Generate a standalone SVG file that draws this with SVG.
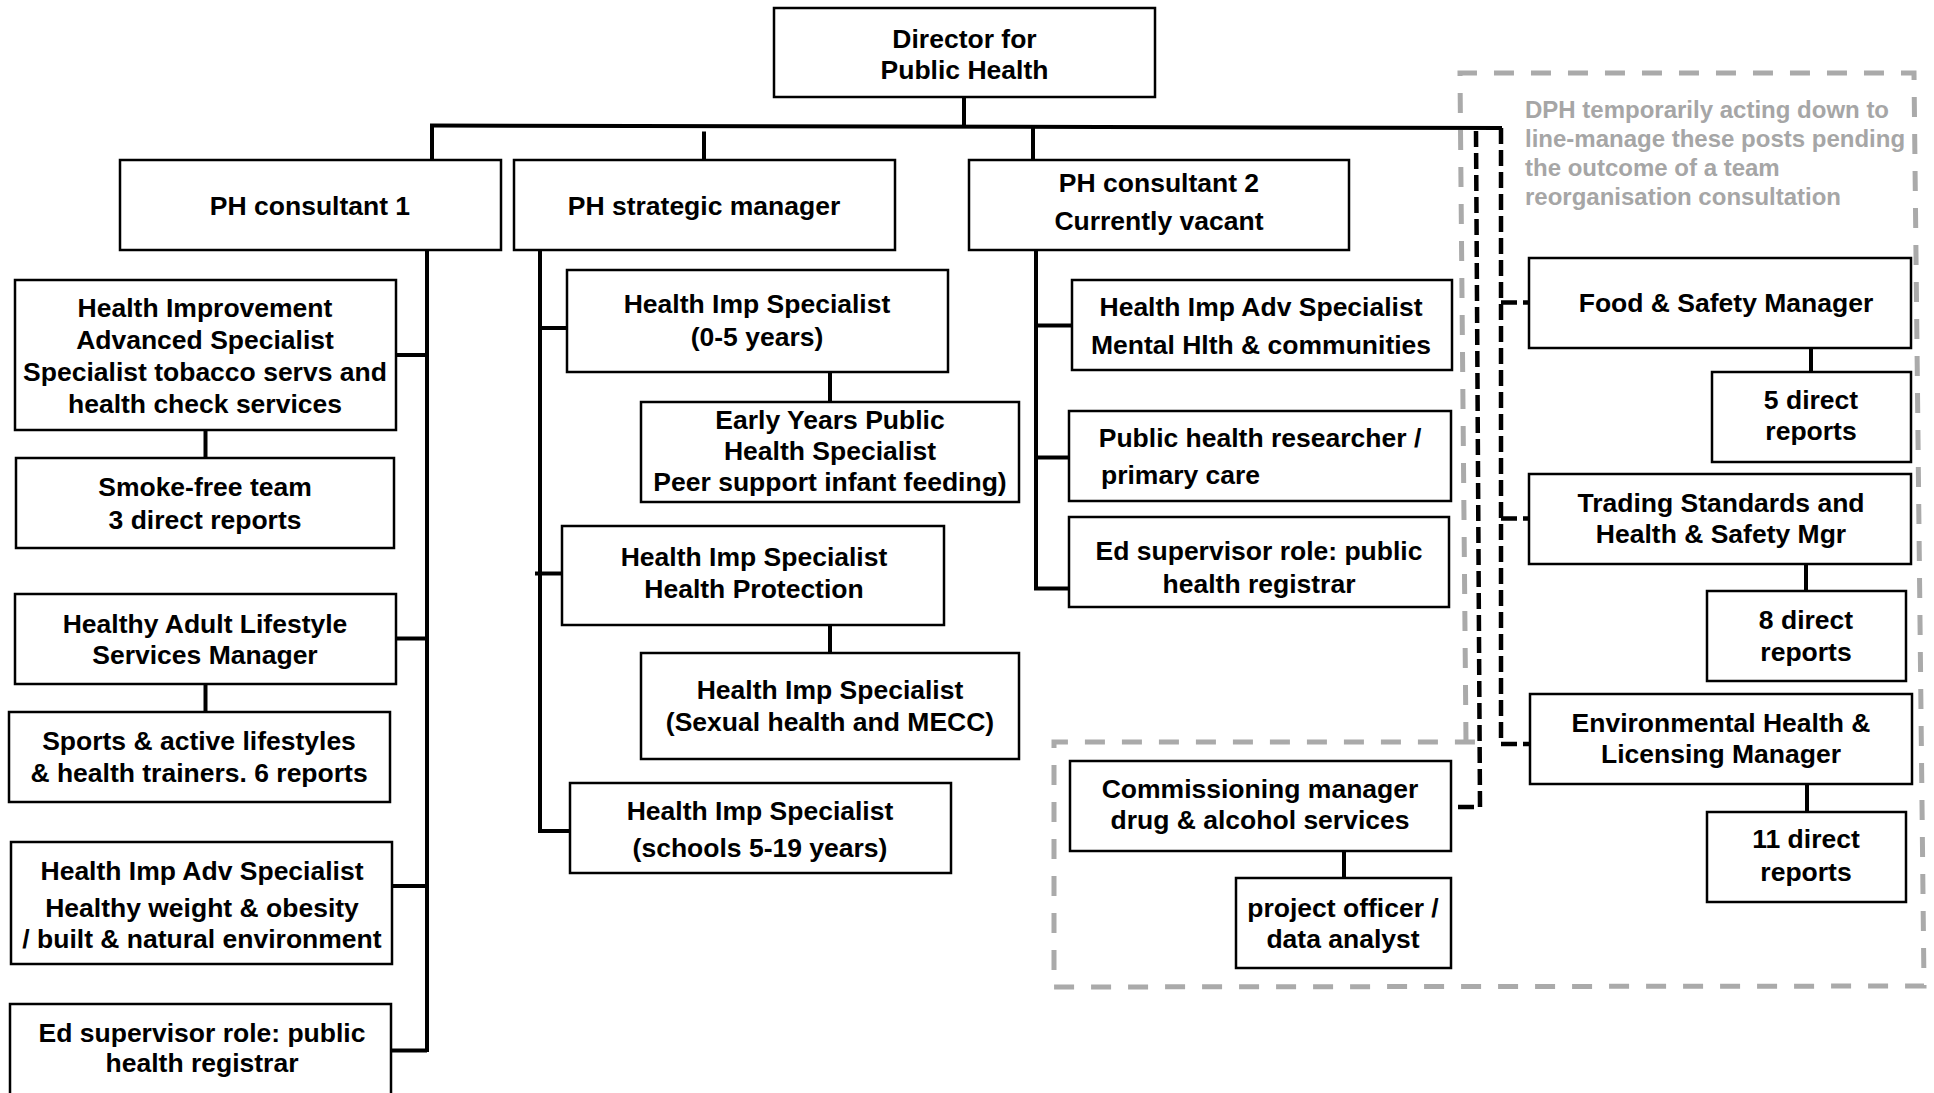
<svg xmlns="http://www.w3.org/2000/svg" width="1934" height="1093" viewBox="0 0 1934 1093">
<style>
  .box { fill: #ffffff; stroke: #000000; stroke-width: 2.5; }
  .t { font-family: "Liberation Sans", Arial, Helvetica, sans-serif; font-weight: bold; font-size: 26.5px; fill: #000000; text-anchor: middle; }
  .note { font-family: "Liberation Sans", Arial, Helvetica, sans-serif; font-weight: bold; font-size: 24px; fill: #a6a6a6; }
  .ln { fill: none; stroke: #000000; stroke-width: 4; stroke-linejoin: miter; }
  .dl { fill: none; stroke: #000000; stroke-width: 4.5; stroke-dasharray: 16 6; }
  .gz { fill: none; stroke: #aaaaaa; stroke-width: 5; stroke-dasharray: 20 17; }
</style>
<rect width="1934" height="1093" fill="#ffffff"/>

<g id="region">
  <path class="gz" d="M1466 742 L1460 73 L1914 73 L1924 986 L1054 987 L1054 742 L1476 742"/>
  <text class="note" x="1525" y="118">DPH temporarily acting down to</text>
  <text class="note" x="1525" y="147">line-manage these posts pending</text>
  <text class="note" x="1525" y="176">the outcome of a team</text>
  <text class="note" x="1525" y="205">reorganisation consultation</text>
</g>

<g id="connectors">
  <path class="ln" d="M964 97 V127"/>
  <path class="ln" d="M430 125.5 L1502 128"/>
  <path class="ln" d="M432 125 V160"/>
  <path class="ln" d="M704 131.5 V160"/>
  <path class="ln" d="M1033 127 V160"/>
  <path class="ln" d="M427 250 V1052"/>
  <path class="ln" d="M396 355 H427"/>
  <path class="ln" d="M394 638.5 H427"/>
  <path class="ln" d="M392 886 H427"/>
  <path class="ln" d="M391 1050.5 H427"/>
  <path class="ln" d="M205.5 430 V458"/>
  <path class="ln" d="M205.5 684 V712"/>
  <path class="ln" d="M540 250 V831 H570"/>
  <path class="ln" d="M540 328 H567"/>
  <path class="ln" d="M535 573.5 H562"/>
  <path class="ln" d="M830 372 V402"/>
  <path class="ln" d="M830 625 V653"/>
  <path class="ln" d="M1036 250 V588.5 H1069"/>
  <path class="ln" d="M1036 325.5 H1072"/>
  <path class="ln" d="M1036 457.5 H1069"/>
  <path class="ln" d="M1811 348 V372"/>
  <path class="ln" d="M1806 564 V591"/>
  <path class="ln" d="M1807 784 V812"/>
  <path class="ln" d="M1344 851 V878"/>
  <path class="dl" d="M1501 128 V744 H1530"/>
  <path class="dl" d="M1501 302.5 H1529"/>
  <path class="dl" d="M1501 518.5 H1529"/>
  <path class="dl" d="M1476 131 L1480 807 H1451"/>
</g>

<g id="director">
  <rect class="box" x="774" y="8" width="381" height="89"/>
  <text class="t" x="964.5" y="48">Director for</text>
  <text class="t" x="964.5" y="79">Public Health</text>
</g>
<g id="ph-consultant-1">
  <rect class="box" x="120" y="160" width="381" height="90"/>
  <text class="t" x="310" y="214.5">PH consultant 1</text>
</g>
<g id="ph-strategic-manager">
  <rect class="box" x="514" y="160" width="381" height="90"/>
  <text class="t" x="704" y="214.5">PH strategic manager</text>
</g>
<g id="ph-consultant-2">
  <rect class="box" x="969" y="160" width="380" height="90"/>
  <text class="t" x="1159" y="192">PH consultant 2</text>
  <text class="t" x="1159" y="229.5">Currently vacant</text>
</g>

<g id="hi-advanced-specialist">
  <rect class="box" x="15" y="280" width="381" height="150"/>
  <text class="t" x="205" y="317">Health Improvement</text>
  <text class="t" x="205" y="349">Advanced Specialist</text>
  <text class="t" x="205" y="381">Specialist tobacco servs and</text>
  <text class="t" x="205" y="413">health check services</text>
</g>
<g id="smoke-free-team">
  <rect class="box" x="16" y="458" width="378" height="90"/>
  <text class="t" x="205" y="496">Smoke-free team</text>
  <text class="t" x="205" y="529">3 direct reports</text>
</g>
<g id="healthy-adult-lifestyle">
  <rect class="box" x="15" y="594" width="381" height="90"/>
  <text class="t" x="205" y="632.5">Healthy Adult Lifestyle</text>
  <text class="t" x="205" y="664">Services Manager</text>
</g>
<g id="sports-active">
  <rect class="box" x="9" y="712" width="381" height="90"/>
  <text class="t" x="199" y="750">Sports &amp; active lifestyles</text>
  <text class="t" x="199" y="781.5">&amp; health trainers. 6 reports</text>
</g>
<g id="healthy-weight">
  <rect class="box" x="11" y="842" width="381" height="122"/>
  <text class="t" x="202" y="879.5">Health Imp Adv Specialist</text>
  <text class="t" x="202" y="917">Healthy weight &amp; obesity</text>
  <text class="t" x="202" y="948">/ built &amp; natural environment</text>
</g>
<g id="ed-supervisor-1">
  <rect class="box" x="10" y="1004" width="381" height="100"/>
  <text class="t" x="202" y="1041.5">Ed supervisor role: public</text>
  <text class="t" x="202" y="1072">health registrar</text>
</g>

<g id="his-0-5">
  <rect class="box" x="567" y="270" width="381" height="102"/>
  <text class="t" x="757" y="313">Health Imp Specialist</text>
  <text class="t" x="757" y="345.5">(0-5 years)</text>
</g>
<g id="early-years">
  <rect class="box" x="641" y="402" width="378" height="100"/>
  <text class="t" x="830" y="428.5">Early Years Public</text>
  <text class="t" x="830" y="459.5">Health Specialist</text>
  <text class="t" x="830" y="491">Peer support infant feeding)</text>
</g>
<g id="his-health-protection">
  <rect class="box" x="562" y="526" width="382" height="99"/>
  <text class="t" x="754" y="566">Health Imp Specialist</text>
  <text class="t" x="754" y="597.5">Health Protection</text>
</g>
<g id="his-sexual-health">
  <rect class="box" x="641" y="653" width="378" height="106"/>
  <text class="t" x="830" y="699">Health Imp Specialist</text>
  <text class="t" x="830" y="731">(Sexual health and MECC)</text>
</g>
<g id="his-schools">
  <rect class="box" x="570" y="783" width="381" height="90"/>
  <text class="t" x="760" y="820">Health Imp Specialist</text>
  <text class="t" x="760" y="857">(schools 5-19 years)</text>
</g>

<g id="mental-health">
  <rect class="box" x="1072" y="280" width="380" height="90"/>
  <text class="t" x="1261" y="316">Health Imp Adv Specialist</text>
  <text class="t" x="1261" y="353.5">Mental Hlth &amp; communities</text>
</g>
<g id="ph-researcher">
  <rect class="box" x="1069" y="411" width="382" height="90"/>
  <text class="t" x="1260" y="447">Public health researcher /</text>
  <text class="t" x="1101" y="484" style="text-anchor:start">primary care</text>
</g>
<g id="ed-supervisor-2">
  <rect class="box" x="1069" y="517" width="380" height="90"/>
  <text class="t" x="1259" y="560">Ed supervisor role: public</text>
  <text class="t" x="1259" y="593">health registrar</text>
</g>
<g id="commissioning-manager">
  <rect class="box" x="1070" y="761" width="381" height="90"/>
  <text class="t" x="1260" y="797.5">Commissioning manager</text>
  <text class="t" x="1260" y="829">drug &amp; alcohol services</text>
</g>
<g id="project-officer">
  <rect class="box" x="1236" y="878" width="215" height="90"/>
  <text class="t" x="1343" y="916.5">project officer /</text>
  <text class="t" x="1343" y="948">data analyst</text>
</g>

<g id="food-safety">
  <rect class="box" x="1529" y="258" width="382" height="90"/>
  <text class="t" x="1726" y="312">Food &amp; Safety Manager</text>
</g>
<g id="reports-5">
  <rect class="box" x="1712" y="372" width="199" height="90"/>
  <text class="t" x="1811" y="408.5">5 direct</text>
  <text class="t" x="1811" y="440">reports</text>
</g>
<g id="trading-standards">
  <rect class="box" x="1529" y="474" width="382" height="90"/>
  <text class="t" x="1721" y="512">Trading Standards and</text>
  <text class="t" x="1721" y="543">Health &amp; Safety Mgr</text>
</g>
<g id="reports-8">
  <rect class="box" x="1707" y="591" width="199" height="90"/>
  <text class="t" x="1806" y="629">8 direct</text>
  <text class="t" x="1806" y="660.5">reports</text>
</g>
<g id="environmental-health">
  <rect class="box" x="1530" y="694" width="382" height="90"/>
  <text class="t" x="1721" y="731.5">Environmental Health &amp;</text>
  <text class="t" x="1721" y="763">Licensing Manager</text>
</g>
<g id="reports-11">
  <rect class="box" x="1707" y="812" width="199" height="90"/>
  <text class="t" x="1806" y="848">11 direct</text>
  <text class="t" x="1806" y="880.5">reports</text>
</g>
</svg>
